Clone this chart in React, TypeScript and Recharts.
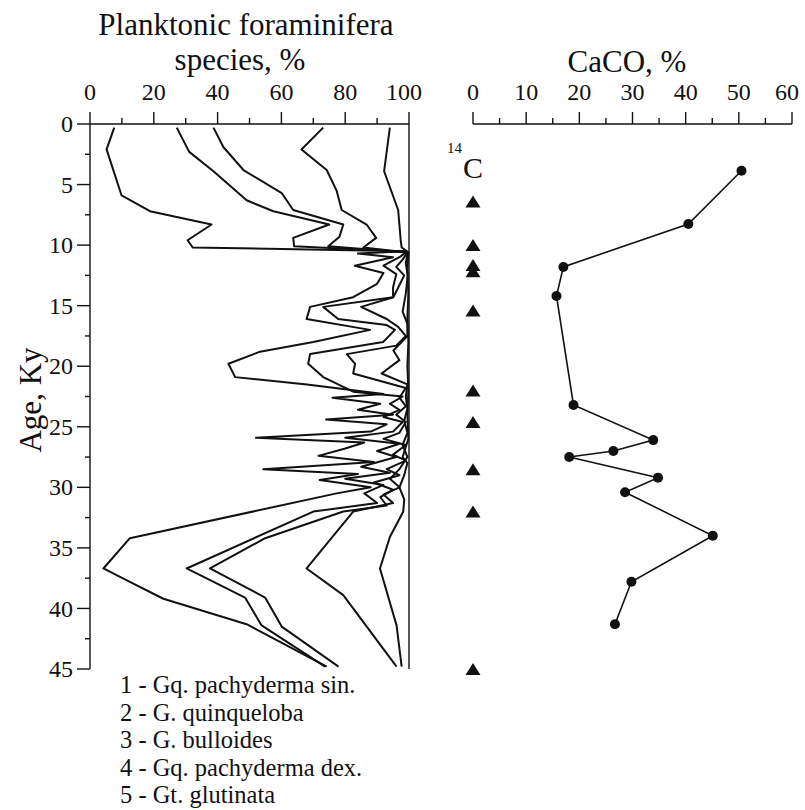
import React from 'react';
import { ScatterChart, Scatter, XAxis, YAxis, ReferenceLine } from 'recharts';

// cumulative curves, [age Ky, cumulative %]
const sinPachyderma: [number, number][] = [
  [0.3, 7.6], [2.1, 5.2], [5.9, 9.9], [7.2, 18.8], [8.3, 38.1], [9.6, 30.6], [10.2, 32.2],
  [10.5, 99], [10.7, 84], [11.0, 95], [11.7, 83], [12.3, 92], [13.2, 90], [14.3, 82.5],
  [15.1, 69], [16.1, 67.9], [17.0, 87.8], [18.0, 70], [18.8, 53.3], [19.8, 43.4], [20.9, 45.5],
  [21.5, 68], [22.3, 92], [22.6, 76], [23.1, 91], [23.6, 84], [24.0, 95], [24.4, 74],
  [24.8, 93], [25.4, 88], [25.9, 52], [26.3, 86], [26.8, 80], [27.4, 71.6], [27.9, 89],
  [28.5, 54.3], [28.9, 84], [29.4, 72], [30.0, 88], [30.5, 77.3], [34.2, 12.5], [36.7, 4.2],
  [37.8, 12.5], [39.2, 23], [41.3, 49.1], [44.8, 74.2],
];

const quinqueloba: [number, number][] = [
  [0.3, 27.2], [2.3, 31.1], [3.9, 38.7], [6.3, 49.1], [7.2, 57.5], [8.3, 75.0], [9.4, 63.7],
  [10.1, 64.0], [10.55, 99.3], [11.0, 97], [11.7, 92], [12.4, 96], [13.5, 95], [14.3, 95],
  [15.1, 73.1], [16.1, 77.8], [16.6, 93], [17.0, 95.6], [18.0, 91.9], [19.0, 69], [19.8, 68.4],
  [20.9, 73.1], [22.1, 82.5], [22.5, 98], [23.1, 94], [23.6, 97], [24.2, 92], [24.6, 98],
  [25.4, 95], [25.9, 80], [26.4, 97], [27.0, 90], [27.5, 96], [28.3, 85], [28.8, 94],
  [29.3, 80], [29.8, 92], [30.5, 86], [31.3, 90], [32.0, 70], [36.7, 30.3], [39.1, 48.6],
  [41.4, 53.8], [44.8, 73.7],
];

const bulloides: [number, number][] = [
  [0.3, 38.7], [1.9, 41.8], [3.8, 48.1], [5.7, 60.1], [7.1, 63.7], [8.3, 79.4], [9.3, 78.2],
  [10.1, 74.7], [10.6, 99.5], [11.2, 98], [11.8, 96], [12.5, 98.5], [14.3, 95.1], [15.1, 85],
  [16.1, 93], [16.75, 96.6], [17.5, 99], [18.3, 96], [19.0, 80.5], [19.8, 83.1], [20.6, 82.5],
  [21.8, 99], [22.6, 97], [23.3, 99], [24.0, 96], [24.6, 99], [25.5, 97], [26.0, 92],
  [26.5, 99], [27.3, 95], [27.8, 99], [28.5, 93], [29.0, 97], [29.6, 89], [30.2, 95],
  [30.8, 91], [31.5, 93], [32.0, 79.4], [34.2, 54.9], [36.7, 37.6], [39.1, 54.9],
  [41.5, 60.1], [44.8, 77.9],
];

const dexPachyderma: [number, number][] = [
  [0.3, 73.1], [2.1, 66.3], [3.8, 74.2], [5.5, 77.3], [7.1, 78.9], [8.3, 86.7], [9.4, 89.7],
  [10.2, 85.7], [10.6, 99.6], [11.5, 99], [12.5, 99.6], [14.0, 99], [15.5, 98], [16.5, 99.5],
  [17.5, 99.5], [18.7, 95.1], [19.5, 97], [20.6, 91.4], [21.5, 99.5], [22.5, 99], [23.5, 99.5],
  [24.5, 98.5], [25.5, 99.5], [26.5, 98], [27.5, 99.5], [28.5, 97], [29.3, 94], [30.0, 97],
  [30.6, 92], [31.3, 95], [32.0, 82.5], [36.7, 67.9], [38.9, 79.4], [44.8, 96.1],
];

const glutinata: [number, number][] = [
  [0.3, 94.0], [3.9, 92.2], [7.1, 96.6], [9.6, 97.4], [10.2, 97.7], [10.6, 99.8], [12.0, 99.5],
  [14.0, 99.8], [16.0, 99.5], [18.0, 99.8], [20.0, 99.5], [22.0, 99.8], [24.0, 99.5],
  [26.0, 99.8], [27.5, 98], [28.0, 99.5], [29.0, 98.5], [30.0, 97], [31.0, 98.5], [32.0, 98.2],
  [34.1, 94], [36.7, 90.9], [41.4, 96.1], [44.8, 97.7],
];

const caco3Ages = [3.86, 8.26, 11.8, 14.2, 23.2, 26.1, 27.0, 27.5, 29.2, 30.4, 34.0, 37.8, 41.3];
const caco3Values = [50.5, 40.5, 17.0, 15.7, 18.9, 33.9, 26.4, 18.1, 34.8, 28.6, 45.1, 29.8, 26.7];
const c14Ages = [6.4, 10.0, 11.65, 12.15, 15.4, 22.0, 24.6, 28.5, 32.0, 45.0];

const speciesTicks = [0, 10, 20, 30, 40, 50, 60, 70, 80, 90, 100];
const carbTicks = [0, 5, 10, 15, 20, 25, 30, 35, 40, 45, 50, 55, 60];
const ageTicks = [0, 2.5, 5, 7.5, 10, 12.5, 15, 17.5, 20, 22.5, 25, 27.5, 30, 32.5, 35, 37.5, 40, 42.5, 45];

const legendItems = [
  '1 - Gq. pachyderma sin.',
  '2 - G. quinqueloba',
  '3 - G. bulloides',
  '4 - Gq. pachyderma dex.',
  '5 - Gt. glutinata',
];

const SERIF = '"Liberation Serif", "Times New Roman", serif';
const INK = '#111';

const curves = [sinPachyderma, quinqueloba, bulloides, dexPachyderma, glutinata].map((pts) =>
  pts.map(([age, v]) => ({ age, v }))
);
const caco3Rows = caco3Ages.map((age, i) => ({ age, v: caco3Values[i] }));
const c14Rows = c14Ages.map((age) => ({ age, v: 0 }));

// tick props x/y sit on the axis line because tickSize and tickMargin are 0
const TopTick = (props: any) => {
  const { x, y, payload, step, last } = props;
  const major = payload.value % step === 0;
  const shift = payload.value === last ? -5 : 0;
  return (
    <g>
      <line x1={x} x2={x} y1={y} y2={y - (major ? 12 : 6)} stroke={INK} strokeWidth={1.4} />
      {major && (
        <text x={x + shift} y={y - 24} textAnchor="middle" fontSize={24} fontFamily={SERIF} fill={INK}>
          {payload.value}
        </text>
      )}
    </g>
  );
};

const AgeTick = (props: any) => {
  const { x, y, payload } = props;
  const major = payload.value % 5 === 0;
  return (
    <g>
      <line x1={x} x2={x - (major ? 13 : 5)} y1={y} y2={y} stroke={INK} strokeWidth={1.4} />
      {major && (
        <text x={x - 17} y={y} dy="0.34em" textAnchor="end" fontSize={24} fontFamily={SERIF} fill={INK}>
          {payload.value}
        </text>
      )}
    </g>
  );
};

const NoDot = () => <g />;

const Dot = (props: any) => <circle cx={props.cx} cy={props.cy} r={5} fill={INK} />;

const Triangle = (props: any) => {
  const { cx, cy } = props;
  return <polygon points={`${cx},${cy - 6} ${cx - 7.5},${cy + 6} ${cx + 7.5},${cy + 6}`} fill={INK} />;
};

export default function App() {
  return (
    <div style={{ position: 'absolute', left: 0, top: 0, width: 805, height: 810, background: '#fff' }}>
      <div style={{ position: 'absolute', left: 0, top: 0 }}>
        <ScatterChart width={440} height={700} margin={{ top: 84, right: 31, bottom: 31, left: 50 }}>
          <XAxis
            type="number"
            dataKey="v"
            orientation="top"
            domain={[0, 100]}
            ticks={speciesTicks}
            interval={0}
            height={40}
            tickSize={0}
            tickMargin={0}
            tickLine={false}
            axisLine={{ stroke: INK, strokeWidth: 1.4 }}
            tick={(p: any) => <TopTick {...p} step={20} last={100} />}
          />
          <YAxis
            type="number"
            dataKey="age"
            domain={[0, 45]}
            reversed
            ticks={ageTicks}
            interval={0}
            width={40}
            tickSize={0}
            tickMargin={0}
            tickLine={false}
            axisLine={{ stroke: INK, strokeWidth: 1.4 }}
            tick={(p: any) => <AgeTick {...p} />}
          />
          <ReferenceLine x={100} stroke={INK} strokeWidth={1.4} />
          {curves.map((rows, i) => (
            <Scatter
              key={i}
              data={rows}
              line={{ stroke: INK, strokeWidth: 2, strokeLinejoin: 'round' }}
              lineType="joint"
              shape={NoDot}
              isAnimationActive={false}
            />
          ))}
        </ScatterChart>
      </div>
      <div style={{ position: 'absolute', left: 420, top: 0 }}>
        <ScatterChart width={385} height={700} margin={{ top: 84, right: 13, bottom: 31, left: 53 }}>
          <XAxis
            type="number"
            dataKey="v"
            orientation="top"
            domain={[0, 60]}
            ticks={carbTicks}
            interval={0}
            height={40}
            tickSize={0}
            tickMargin={0}
            tickLine={false}
            axisLine={{ stroke: INK, strokeWidth: 1.4 }}
            tick={(p: any) => <TopTick {...p} step={10} last={60} />}
          />
          <YAxis type="number" dataKey="age" domain={[0, 45]} reversed hide />
          <Scatter
            data={caco3Rows}
            line={{ stroke: INK, strokeWidth: 1.6 }}
            lineType="joint"
            shape={Dot}
            isAnimationActive={false}
          />
          <Scatter data={c14Rows} shape={Triangle} isAnimationActive={false} />
        </ScatterChart>
      </div>
      <svg
        width={805}
        height={810}
        style={{ position: 'absolute', left: 0, top: 0, pointerEvents: 'none' }}
        fontFamily={SERIF}
        fill={INK}
      >
        <text x={246} y={35} textAnchor="middle" fontSize={31}>Planktonic foraminifera</text>
        <text x={240} y={70} textAnchor="middle" fontSize={31}>species, %</text>
        <text x={627} y={72} textAnchor="middle" fontSize={31}>CaCO, %</text>
        <text x={447} y={153} fontSize={15}>14</text>
        <text x={463} y={178} fontSize={30}>C</text>
        <text transform="translate(41,400) rotate(-90)" textAnchor="middle" fontSize={31}>Age, Ky</text>
        {legendItems.map((s, i) => (
          <text key={s} x={120} y={693 + i * 27.5} fontSize={24.5}>{s}</text>
        ))}
      </svg>
    </div>
  );
}
